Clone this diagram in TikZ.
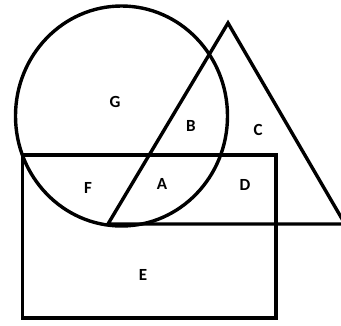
\documentclass[tikz,border=0pt]{standalone}
\usepackage{fontspec}
\setmainfont{Carlito}
\begin{document}
\begin{tikzpicture}[x=1pt,y=-1pt,
  shapeline/.style={draw=black,line width=3.4pt,line join=miter},
  lbl/.style={font=\bfseries\fontsize{17}{19}\selectfont,inner sep=0pt}]
\useasboundingbox (0,0) rectangle (341,325);
\draw[shapeline] (121.5,116) ellipse [x radius=106, y radius=110];
\draw[shapeline] (228,23) -- (345,224) -- (108,224) -- cycle;
\draw[shapeline] (22.5,155) rectangle (276,318);
\node[lbl] (G) at (115,102) {G};
\node[lbl] (B) at (191,126) {B};
\node[lbl] (C) at (258,130) {C};
\node[lbl] (F) at (88,188) {F};
\node[lbl] (A) at (162,184) {A};
\node[lbl] (D) at (245,185) {D};
\node[lbl] (E) at (143,275) {E};
\end{tikzpicture}
\end{document}
